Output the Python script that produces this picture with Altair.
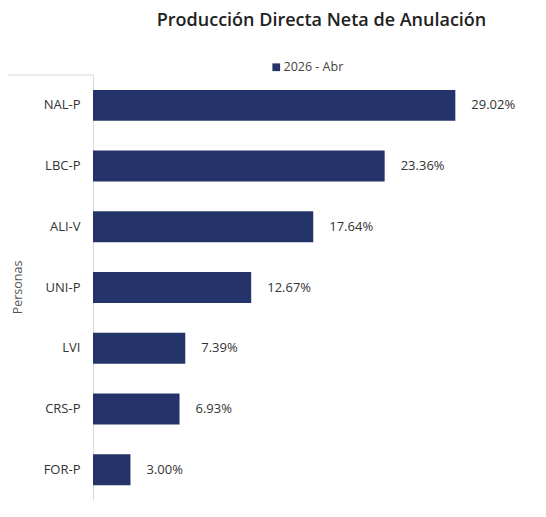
import altair as alt
import pandas as pd

categories = ["NAL-P", "LBC-P", "ALI-V", "UNI-P", "LVI", "CRS-P", "FOR-P"]
values = [29.02, 23.36, 17.64, 12.67, 7.39, 6.93, 3.00]
series_name = "2026 - Abr"
title_text = "Producción Directa Neta de Anulación"
axis_title = "Personas"

df = pd.DataFrame({
    "cat": categories,
    "val": values,
    "serie": [series_name] * len(categories),
    "label": [f"{v:.2f}%" for v in values],
})

FONT = "Open Sans"
NAVY = "#24346A"

base = alt.Chart(df)

bars = base.mark_bar(color=NAVY).encode(
    y=alt.Y("cat:N", sort=categories,
            scale=alt.Scale(paddingInner=0.49, paddingOuter=0.245),
            axis=alt.Axis(title=axis_title, ticks=False, domain=True,
                          domainColor="#d9d9d9", domainWidth=1,
                          labelPadding=13, labelFontSize=13, labelColor="#333333",
                          labelFont=FONT, titleFont=FONT, titleFontSize=12.5,
                          titleFontWeight="normal", titleColor="#555555",
                          titleX=-69, titleY=212, titleAngle=270)),
    x=alt.X("val:Q", scale=alt.Scale(domain=[0, 33.4]), axis=None),
    color=alt.Color("serie:N", scale=alt.Scale(range=[NAVY]),
                    legend=alt.Legend(title=None, orient="none", legendX=177, legendY=-14,
                                      symbolType="square", symbolSize=60,
                                      symbolStrokeWidth=0, labelFont=FONT,
                                      labelFontSize=12.5, labelColor="#444444",
                                      labelOffset=1)),
)

text = base.mark_text(align="left", baseline="middle", dx=16, font=FONT,
                      fontSize=13, color="#333333").encode(
    y=alt.Y("cat:N", sort=categories),
    x=alt.X("val:Q"),
    text="label:N",
)

topline = alt.Chart(pd.DataFrame({"a": [0]})).mark_rule(color="#d9d9d9", strokeWidth=1).encode(
    x=alt.value(-87), x2=alt.value(0), y=alt.value(0)
)

chart = alt.layer(bars, text, topline).properties(
    width=437,
    height=425,
    autosize="none",
    padding={"left": 85, "top": 67, "right": 8, "bottom": 5},
    title=alt.Title(title_text, font=FONT, fontSize=18, fontWeight=600,
                    color="#222222", anchor="middle", dx=10, offset=31),
).configure_view(stroke=None)

chart.save("out.html", embed_options={"renderer": "svg", "actions": False})
